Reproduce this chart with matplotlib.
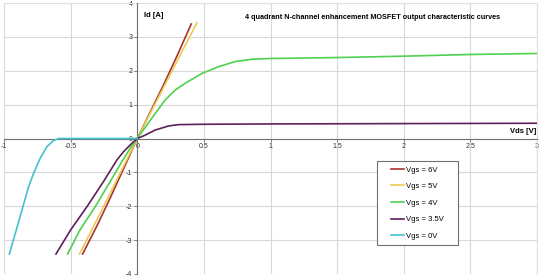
import matplotlib
matplotlib.use("Agg")
import matplotlib.pyplot as plt
from matplotlib.patches import Rectangle

# Vgs = 6V
vds_6 = [-0.41, -0.3, -0.2, -0.1, 0.0, 0.1, 0.197, 0.3, 0.405]
id_6 = [-3.41, -2.56, -1.73, -0.87, 0.0, 0.8, 1.58, 2.45, 3.38]
# Vgs = 5V
vds_5 = [-0.433, -0.253, 0.0, 0.448]
id_5 = [-3.41, -2.01, 0.0, 3.42]
# Vgs = 4V
vds_4 = [-0.523, -0.43, -0.315, -0.203, -0.115, -0.053, 0.0, 0.085, 0.135, 0.21,
         0.285, 0.36, 0.485, 0.61, 0.735, 0.86, 0.985, 1.5, 2.0, 2.5, 3.0]
id_4 = [-3.41, -2.7, -2.01, -1.27, -0.68, -0.29, 0.0, 0.47, 0.74, 1.14,
        1.43, 1.63, 1.92, 2.12, 2.27, 2.34, 2.36, 2.39, 2.43, 2.48, 2.51]
# Vgs = 3.5V
vds_35 = [-0.61, -0.5, -0.377, -0.253, -0.152, -0.103, -0.04, 0.0, 0.06, 0.135,
          0.235, 0.31, 0.5, 1.0, 2.0, 3.0]
id_35 = [-3.41, -2.7, -2.01, -1.27, -0.63, -0.39, -0.14, 0.0, 0.10, 0.25,
         0.37, 0.41, 0.42, 0.43, 0.44, 0.45]
# Vgs = 0V
vds_0 = [-0.96, -0.915, -0.865, -0.815, -0.778, -0.728, -0.678, -0.628, -0.59, 0.0]
id_0 = [-3.41, -2.8, -2.11, -1.42, -1.03, -0.58, -0.24, -0.06, 0.0, 0.0]

series = [
    ("Vgs = 6V", vds_6, id_6, "#a83232"),
    ("Vgs = 5V", vds_5, id_5, "#eccc50"),
    ("Vgs = 4V", vds_4, id_4, "#4fd04f"),
    ("Vgs = 3.5V", vds_35, id_35, "#5e1f5e"),
    ("Vgs = 0V", vds_0, id_0, "#45c0d0"),
]

x_ticks = [-1, -0.5, 0, 0.5, 1, 1.5, 2, 2.5, 3]
x_labels = ["-1", "-0.5", "0", "0.5", "1", "1.5", "2", "2.5", "3"]
y_ticks = [-4, -3, -2, -1, 0, 1, 2, 3, 4]
y_labels = ["-4", "-3", "-2", "-1", "0", "1", "2", "3", "4"]

plt.rcParams["font.family"] = ["Liberation Sans", "DejaVu Sans"]

fig = plt.figure(figsize=(5.4, 2.77), dpi=100)
ax = fig.add_axes([4 / 540, 3 / 277, 533 / 540, 271 / 277])

for label, xs, ys, color in series:
    ax.plot(xs, ys, color=color, lw=1.2, label=label, zorder=5,
            solid_joinstyle="round")

ax.set_xlim(-1, 3)
ax.set_ylim(-4, 4)
ax.set_xticks(x_ticks)
ax.set_xticklabels(x_labels)
ax.set_yticks(y_ticks)
ax.set_yticklabels(y_labels)
ax.grid(True, color="#d8d8d8", lw=0.8, zorder=0)

for side in ["top", "right"]:
    ax.spines[side].set_color("#e0e0e0")
ax.spines["left"].set_position(("data", 0))
ax.spines["bottom"].set_position(("data", 0))
ax.spines["left"].set_color("#707070")
ax.spines["bottom"].set_color("#707070")
ax.spines["left"].set_zorder(4)
ax.spines["bottom"].set_zorder(4)
ax.tick_params(axis="both", labelsize=5, length=2, width=0.6, colors="#707070",
               labelcolor="#333333", pad=1.5)

ax.text(0.05, 3.62, "Id [A]", fontsize=5.5, fontweight="bold", va="center")
ax.text(2.995, 0.2, "Vds [V]", fontsize=5.5, fontweight="bold", ha="right", va="center")
ax.text(0.81, 3.58, "4 quadrant N-channel enhancement MOSFET output characteristic curves",
        fontsize=5.25, fontweight="bold", va="center")

# legend box drawn separately so the padding matches the original
box = Rectangle((0.700, 0.107), 0.152, 0.310, transform=ax.transAxes,
                facecolor="white", edgecolor="#707070", lw=0.8, zorder=6)
ax.add_patch(box)
leg = ax.legend(loc="center", bbox_to_anchor=(0.776, 0.262), fontsize=5.5,
                frameon=False, handlelength=1.6, labelspacing=1.2,
                handletextpad=0.3, borderaxespad=0, borderpad=0)
leg.set_zorder(7)

fig.savefig("out.png", dpi=100)
